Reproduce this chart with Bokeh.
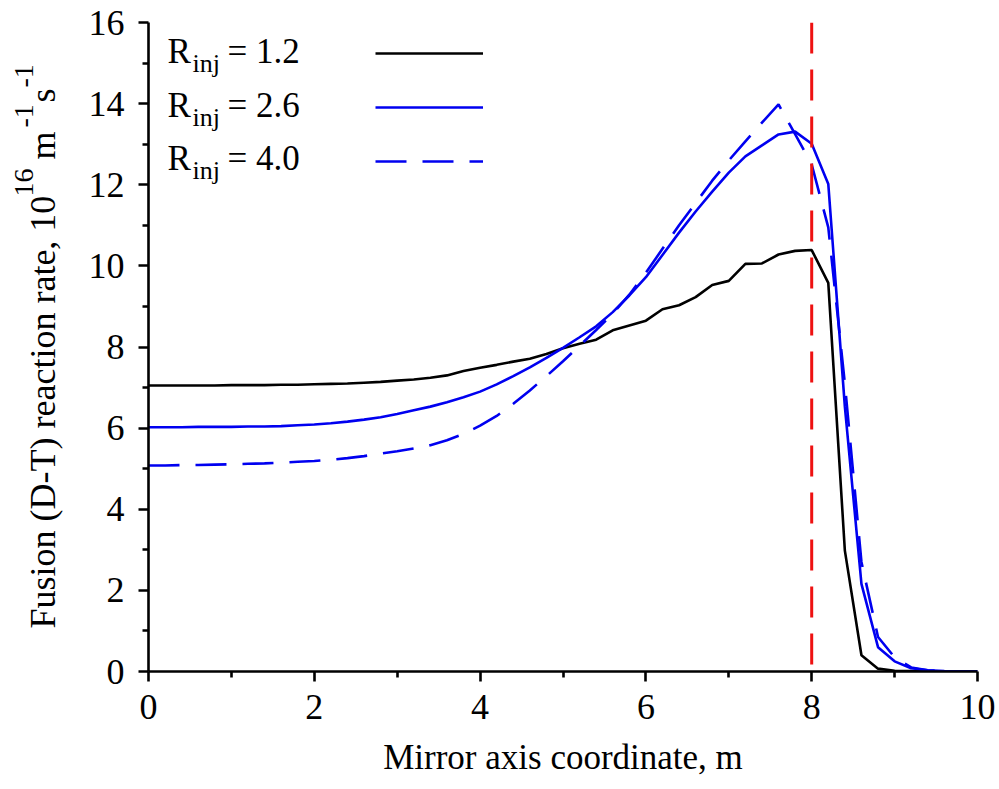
import math
from bokeh.plotting import figure
from bokeh.layouts import row
from bokeh.models import Range1d, FixedTicker, Span, Label, Legend, LegendItem
from bokeh.embed import file_html
from bokeh.resources import INLINE

# ---------------- data ----------------
x_coord = [0.0, 0.2, 0.4, 0.6, 0.8, 1.0, 1.2, 1.4, 1.6, 1.8,
           2.0, 2.2, 2.4, 2.6, 2.8, 3.0, 3.2, 3.4, 3.6, 3.8,
           4.0, 4.2, 4.4, 4.6, 4.8, 5.0, 5.2, 5.4, 5.6, 5.8,
           6.0, 6.2, 6.4, 6.6, 6.8, 7.0, 7.2, 7.4, 7.6, 7.8,
           8.0, 8.2, 8.4, 8.6, 8.8, 9.0, 9.2, 9.4, 9.6, 9.8, 10.0]

rate_rinj_1_2 = [7.05, 7.05, 7.05, 7.05, 7.05, 7.06, 7.06, 7.06, 7.07, 7.07,
                 7.08, 7.09, 7.10, 7.12, 7.14, 7.17, 7.20, 7.24, 7.30, 7.41,
                 7.49, 7.56, 7.64, 7.71, 7.83, 7.97, 8.08, 8.18, 8.41, 8.53,
                 8.65, 8.93, 9.03, 9.23, 9.53, 9.63, 10.05, 10.06, 10.28, 10.37,
                 10.39, 9.58, 2.98, 0.40, 0.07, 0.02, 0.01, 0.00, 0.00, 0.00, 0.00]

rate_rinj_2_6 = [6.02, 6.02, 6.02, 6.03, 6.03, 6.03, 6.04, 6.04, 6.05, 6.07,
                 6.09, 6.12, 6.16, 6.21, 6.27, 6.35, 6.44, 6.53, 6.64, 6.76,
                 6.90, 7.08, 7.28, 7.50, 7.73, 7.98, 8.24, 8.51, 8.86, 9.27,
                 9.72, 10.27, 10.82, 11.34, 11.83, 12.30, 12.70, 12.97, 13.24, 13.31,
                 13.01, 12.02, 6.53, 2.16, 0.60, 0.25, 0.08, 0.03, 0.01, 0.00, 0.00]

rate_rinj_4_0 = [5.08, 5.08, 5.09, 5.09, 5.10, 5.11, 5.12, 5.13, 5.15, 5.17,
                 5.19, 5.22, 5.26, 5.31, 5.37, 5.43, 5.50, 5.58, 5.70, 5.86,
                 6.06, 6.30, 6.60, 6.93, 7.28, 7.65, 8.03, 8.42, 8.82, 9.29,
                 9.83, 10.42, 11.00, 11.55, 12.10, 12.60, 13.07, 13.53, 13.98, 13.25,
                 12.50, 10.95, 7.10, 2.70, 0.85, 0.35, 0.10, 0.03, 0.01, 0.00, 0.00]

rinj_values = ["1.2", "2.6", "4.0"]
mirror_position = 8.0

x_major_ticks = [0, 2, 4, 6, 8, 10]
x_minor_ticks = [1, 3, 5, 7, 9]
y_major_ticks = [0, 2, 4, 6, 8, 10, 12, 14, 16]
y_minor_ticks = [1, 3, 5, 7, 9, 11, 13, 15]

# ---------------- style ----------------
FONT = "Liberation Serif"
BLACK = "#000000"
BLUE = "#0000f0"
RED = "#ee1111"
LW = 2.6

LABEL_W = 70          # width of the strip holding the y-axis title
TOTAL_W, TOTAL_H = 999, 789
FRAME_LEFT, FRAME_TOP, FRAME_BOTTOM = 148, 22, 671   # canvas pixels of the plot frame

# measured: Bokeh places an "alphabetic" label anchor this far (in em) above the baseline
BASE_SHIFT = 0.337

p = figure(width=TOTAL_W - LABEL_W, height=TOTAL_H, output_backend="svg",
           toolbar_location=None,
           x_range=Range1d(0, 10), y_range=Range1d(0, 16),
           min_border_left=FRAME_LEFT - LABEL_W, min_border_right=22,
           min_border_top=FRAME_TOP, min_border_bottom=TOTAL_H - FRAME_BOTTOM)
p.outline_line_color = None
p.xgrid.visible = False
p.ygrid.visible = False
p.background_fill_color = "white"
p.border_fill_color = "white"

r1 = p.line(x_coord, rate_rinj_1_2, line_color=BLACK, line_width=LW)
r2 = p.line(x_coord, rate_rinj_2_6, line_color=BLUE, line_width=LW)
r3 = p.line(x_coord, rate_rinj_4_0, line_color=BLUE, line_width=LW, line_dash="31 16")

p.add_layout(Span(location=mirror_position, dimension="height", line_color=RED,
                  line_width=3, line_dash="31 16"))

for ax in (p.xaxis[0], p.yaxis[0]):
    ax.axis_line_width = 2.6
    ax.axis_line_color = BLACK
    ax.major_tick_line_width = 2.6
    ax.minor_tick_line_width = 2.6
    ax.major_tick_out = 10
    ax.major_tick_in = 0
    ax.minor_tick_out = 6
    ax.minor_tick_in = 0
    ax.major_label_text_font = FONT
    ax.major_label_text_font_size = "36px"
    ax.major_label_text_color = BLACK

p.xaxis[0].ticker = FixedTicker(ticks=x_major_ticks, minor_ticks=x_minor_ticks)
p.yaxis[0].ticker = FixedTicker(ticks=y_major_ticks, minor_ticks=y_minor_ticks)
p.xaxis[0].major_label_standoff = 13
p.yaxis[0].major_label_standoff = 14

p.xaxis[0].axis_label = "Mirror axis coordinate, m"
p.xaxis[0].axis_label_text_font = FONT
p.xaxis[0].axis_label_text_font_size = "35px"
p.xaxis[0].axis_label_text_font_style = "normal"
p.xaxis[0].axis_label_text_color = BLACK
p.xaxis[0].axis_label_standoff = 16

# ---------------- legend (lines on the right, text drawn separately) ----------------
legend = Legend(items=[LegendItem(label=" ", renderers=[r]) for r in (r1, r2, r3)],
                location=(227, 483), glyph_width=108, glyph_height=54, spacing=0,
                padding=0, margin=0, label_standoff=0, label_width=1, label_height=1,
                label_text_font_size="1px", background_fill_alpha=0,
                border_line_alpha=0)
p.add_layout(legend)

def frame_label(text, cx, base_y, size):
    # cx, base_y: canvas pixels (from top-left) of text start / baseline
    anchor_y = base_y - BASE_SHIFT * size
    p.add_layout(Label(x=cx - FRAME_LEFT, y=FRAME_BOTTOM - anchor_y,
                       x_units="screen", y_units="screen",
                       text=text, text_font=FONT, text_font_size=f"{size}px",
                       text_color=BLACK, text_align="left",
                       text_baseline="alphabetic"))

row_baselines = [63, 117, 170]
for rv, base in zip(rinj_values, row_baselines):
    frame_label("R", 167, base, 35)
    frame_label("inj", 192, base + 9, 26)
    frame_label("= " + rv, 227, base, 35)

# ---------------- y axis title strip (text with superscripts) ----------------
t = figure(width=LABEL_W, height=TOTAL_H, output_backend="svg", toolbar_location=None,
           x_axis_location=None, y_axis_location=None,
           x_range=Range1d(0, LABEL_W), y_range=Range1d(FRAME_BOTTOM, FRAME_TOP),
           min_border_left=0, min_border_right=0,
           min_border_top=FRAME_TOP, min_border_bottom=TOTAL_H - FRAME_BOTTOM)
t.outline_line_color = None
t.xgrid.visible = False
t.ygrid.visible = False
t.background_fill_color = "white"
t.border_fill_color = "white"

UP = math.pi / 2

def title_piece(text, base_x, start_y, size):
    # rotated text reading upwards: baseline is a vertical line at base_x
    t.add_layout(Label(x=base_x - BASE_SHIFT * size, y=start_y, text=text,
                       text_font=FONT, text_font_size=f"{size}px", text_color=BLACK,
                       text_align="left", text_baseline="alphabetic", angle=UP))

title_piece("Fusion (D-T) reaction rate, 10", 55, 628, 36)
title_piece("16", 33, 196, 28)
title_piece("m", 55, 159, 36)
title_piece("-1", 33, 127, 28)
title_piece("s", 55, 102, 36)
title_piece("-1", 33, 87, 28)

layout = row(t, p, spacing=0)
open("out.html", "w").write(file_html(layout, INLINE))
